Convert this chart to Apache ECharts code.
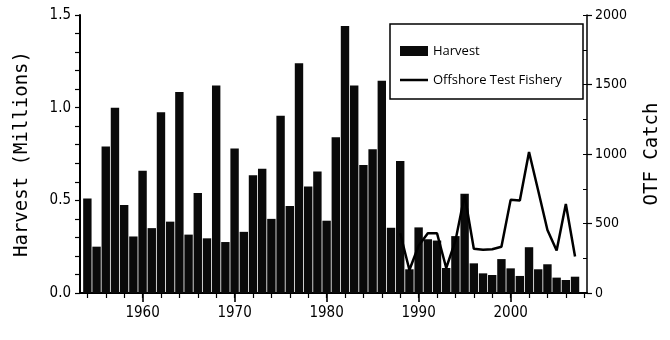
<!DOCTYPE html>
<html>
<head>
<meta charset="utf-8">
<script src="https://cdn.jsdelivr.net/npm/echarts@6/dist/echarts.min.js"></script>
<style>
  html, body { margin: 0; padding: 0; background: #fff; }
  #chart { width: 670px; height: 340px; }
</style>
</head>
<body>
<div id="chart"></div>
<script>
// Annual harvest (millions of fish), 1954-2007
const years = [1954, 1955, 1956, 1957, 1958, 1959, 1960, 1961, 1962, 1963,
  1964, 1965, 1966, 1967, 1968, 1969, 1970, 1971, 1972, 1973,
  1974, 1975, 1976, 1977, 1978, 1979, 1980, 1981, 1982, 1983,
  1984, 1985, 1986, 1987, 1988, 1989, 1990, 1991, 1992, 1993,
  1994, 1995, 1996, 1997, 1998, 1999, 2000, 2001, 2002, 2003,
  2004, 2005, 2006, 2007];
const harvest = [0.51, 0.25, 0.79, 1.00, 0.475, 0.305, 0.66, 0.35, 0.975, 0.385,
  1.085, 0.315, 0.54, 0.295, 1.12, 0.275, 0.78, 0.33, 0.635, 0.67,
  0.40, 0.957, 0.47, 1.24, 0.575, 0.655, 0.39, 0.84, 1.44, 1.12,
  0.69, 0.775, 1.145, 0.352, 0.712, 0.128, 0.354, 0.29, 0.283, 0.135,
  0.307, 0.535, 0.16, 0.106, 0.097, 0.183, 0.133, 0.092, 0.247, 0.128,
  0.155, 0.083, 0.070, 0.088];

// Offshore test fishery catch, 1988-2007
const otfYears = [1988, 1989, 1990, 1991, 1992, 1993, 1994, 1995, 1996, 1997,
  1998, 1999, 2000, 2001, 2002, 2003, 2004, 2005, 2006, 2007];
const otfCatch = [430, 165, 340, 430, 430, 180, 375, 705, 318, 312,
  315, 333, 670, 665, 1015, 735, 453, 305, 640, 262];

// Axis ticks and labels
const minorYearTicks = [1954, 1956, 1958, 1960, 1962, 1964, 1966, 1968, 1970, 1972,
  1974, 1976, 1978, 1980, 1982, 1984, 1986, 1988, 1990, 1992,
  1994, 1996, 1998, 2000, 2002, 2004, 2006, 2008];
const decadeLabels = [1960, 1970, 1980, 1990, 2000];

const tickFont = '"Liberation Sans Narrow", "DejaVu Sans Condensed", "Liberation Sans", sans-serif';
const monoFont = '"DejaVu Sans Mono", "Liberation Mono", monospace';
const legendFont = '"Open Sans", "DejaVu Sans", sans-serif';
const black = '#000';

const chart = echarts.init(document.getElementById('chart'), null, { renderer: 'canvas' });

const xMin = 1953.2, xMax = 2008.3;

const legendText = { fontFamily: legendFont, fontSize: 13, lineHeight: 14, color: black };

chart.setOption({
  animation: false,
  backgroundColor: '#fff',
  grid: { left: 80, right: 82, top: 15, bottom: 47 },
  legend: [
    {
      orient: 'vertical', left: 400, top: 44, padding: 0,
      itemWidth: 28, itemHeight: 10,
      data: [{ name: 'Harvest', icon: 'rect' }],
      textStyle: legendText
    },
    {
      orient: 'vertical', left: 400, top: 73, padding: 0,
      itemWidth: 28, itemHeight: 2.5,
      data: [{ name: 'Offshore Test Fishery', icon: 'rect' }],
      itemStyle: { color: black },
      textStyle: legendText
    }
  ],
  graphic: [{
    type: 'rect',
    shape: { x: 390, y: 24, width: 193, height: 75 },
    style: { fill: 'none', stroke: black, lineWidth: 1.5 },
    z: 10
  }],
  xAxis: [
    {
      type: 'value', min: xMin, max: xMax, position: 'bottom',
      splitLine: { show: false },
      axisLine: { lineStyle: { color: black, width: 2 } },
      axisTick: { customValues: minorYearTicks, length: 5, lineStyle: { color: black, width: 1.2 } },
      axisLabel: { show: false }
    },
    {
      type: 'value', min: xMin, max: xMax, position: 'bottom', offset: 0,
      splitLine: { show: false },
      axisLine: { show: false },
      axisTick: { customValues: decadeLabels, length: 9, lineStyle: { color: black, width: 1.6 } },
      axisLabel: {
        customValues: decadeLabels,
        margin: 13,
        fontFamily: tickFont, fontSize: 15, color: black,
        formatter: v => String(v)
      }
    }
  ],
  yAxis: [
    {
      type: 'value', min: 0, max: 1.5, interval: 0.5, position: 'left',
      name: 'Harvest (Millions)', nameLocation: 'middle', nameGap: 48, nameRotate: 90,
      nameTextStyle: { fontFamily: monoFont, fontSize: 19, color: black },
      splitLine: { show: false },
      axisLine: { show: true, lineStyle: { color: black, width: 2 } },
      axisTick: { show: true, length: 5, lineStyle: { color: black, width: 1.2 } },
      minorTick: { show: true, splitNumber: 5, length: 5, lineStyle: { color: black, width: 1.2 } },
      axisLabel: { margin: 9, fontFamily: tickFont, fontSize: 15, color: black, formatter: v => v.toFixed(1) }
    },
    {
      type: 'value', min: 0, max: 2000, interval: 500, position: 'right',
      name: 'OTF Catch', nameLocation: 'middle', nameGap: 56, nameRotate: 90,
      nameTextStyle: { fontFamily: monoFont, fontSize: 19, color: black },
      splitLine: { show: false },
      axisLine: { show: true, lineStyle: { color: black, width: 1.5 } },
      axisTick: { show: true, length: 5, lineStyle: { color: black, width: 1.2 } },
      axisLabel: { margin: 8, fontFamily: tickFont, fontSize: 14, color: black, formatter: v => String(v) }
    },
    {
      type: 'value', min: 0, max: 2000, interval: 250, position: 'right', offset: 0,
      splitLine: { show: false },
      axisLine: { show: false },
      axisTick: { show: true, inside: true, length: 4, lineStyle: { color: black, width: 1 } },
      axisLabel: { show: false }
    }
  ],
  series: [
    {
      name: 'Harvest',
      type: 'bar',
      xAxisIndex: 0,
      yAxisIndex: 0,
      barWidth: 8.4,
      itemStyle: { color: '#0a0a0a' },
      data: years.map((y, i) => [y, harvest[i]]),
      z: 2
    },
    {
      name: 'Offshore Test Fishery',
      type: 'line',
      xAxisIndex: 0,
      yAxisIndex: 1,
      symbol: 'none',
      lineStyle: { color: black, width: 2.5 },
      itemStyle: { color: black },
      data: otfYears.map((y, i) => [y, otfCatch[i]]),
      z: 3
    }
  ]
});
</script>
</body>
</html>
